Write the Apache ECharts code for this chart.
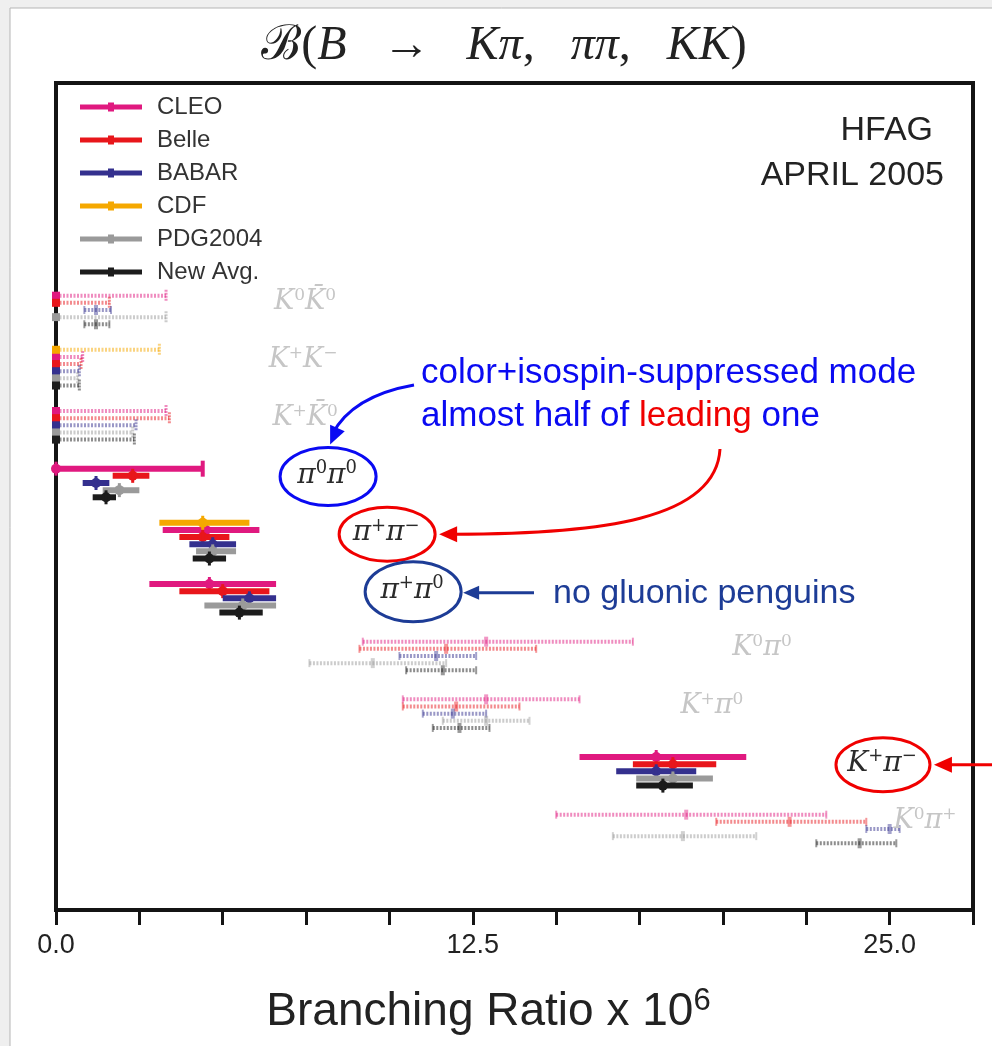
<!DOCTYPE html>
<html><head><meta charset="utf-8">
<script src="https://cdn.jsdelivr.net/npm/echarts@6/dist/echarts.min.js"></script>
<style>html,body{margin:0;padding:0;background:#efefef;} #c{width:992px;height:1046px;}</style>
</head><body><div id="c"></div>
<script>
// ---------------- data ----------------
const modes = ['K0K0bar','K+K-','K+K0bar','pi0pi0','pi+pi-','pi+pi0','K0pi0','K+pi0','K+pi-','K0pi+'];
const modeLabels = [
  '{i|K}{s|0}{i|K̄}{s|0}', '{i|K}{s|+}{i|K}{s|−}', '{i|K}{s|+}{i|K̄}{s|0}',
  '{i|π}{s|0}{i|π}{s|0}', '{i|π}{s|+}{i|π}{s|−}', '{i|π}{s|+}{i|π}{s|0}',
  '{i|K}{s|0}{i|π}{s|0}', '{i|K}{s|+}{i|π}{s|0}', '{i|K}{s|+}{i|π}{s|−}', '{i|K}{s|0}{i|π}{s|+}'
];
const experiments = ['CLEO','Belle','BABAR','CDF','PDG2004','New Avg.'];
// per mode: [central, low, high]; central null = upper limit (bar drawn from 0 to high)
const CLEO  = [[null,0,3.3],[null,0,0.8],[null,0,3.3],[null,0,4.4],[4.5,3.2,6.1],[4.6,2.8,6.6],[12.9,9.2,17.3],[12.9,10.4,15.7],[18.0,15.7,20.7],[18.9,15.0,23.1]];
const BELLE = [[null,0,1.6],[null,0,0.75],[null,0,3.4],[2.3,1.7,2.8],[4.4,3.7,5.2],[5.0,3.7,6.4],[11.7,9.1,14.4],[12.0,10.4,13.9],[18.5,17.3,19.8],[22.0,19.8,24.3]];
const BABAR = [[1.2,0.85,1.65],[null,0,0.7],[null,0,2.4],[1.2,0.8,1.6],[4.7,4.0,5.4],[5.8,5.0,6.6],[11.4,10.3,12.6],[11.9,11.0,12.9],[18.0,16.8,19.2],[25.0,24.3,25.3]];
const CDF   = [null,[null,0,3.1],null,null,[4.4,3.1,5.8],null,null,null,null,null];
const PDG   = [[null,0,3.3],[null,0,0.65],[null,0,2.3],[1.9,1.4,2.5],[4.7,4.2,5.4],[5.6,4.45,6.6],[9.5,7.6,11.7],[12.9,11.6,14.2],[18.5,17.4,19.7],[18.8,16.7,21.0]];
const AVG   = [[1.2,0.85,1.6],[null,0,0.7],[null,0,2.35],[1.5,1.1,1.8],[4.6,4.1,5.1],[5.5,4.9,6.2],[11.6,10.5,12.6],[12.1,11.3,13.0],[18.2,17.4,19.1],[24.1,22.8,25.2]];
const xTickLabels = [0, 12.5, 25];

// ---------------- layout / style ----------------
const byExp = {'CLEO':CLEO,'Belle':BELLE,'BABAR':BABAR,'CDF':CDF,'PDG2004':PDG,'New Avg.':AVG};
const colors = {'CLEO':'#e0197f','Belle':'#e8161b','BABAR':'#34308e','CDF':'#f5a800','PDG2004':'#9a9a9a','New Avg.':'#1c1c1c'};
const rowOrder = ['CDF','CLEO','Belle','BABAR','PDG2004','New Avg.'];
const emphasised = ['pi0pi0','pi+pi-','pi+pi0','K+pi-'];
const labelX = [7.47,7.41,7.47,8.13,9.9,10.68,21.17,19.67,24.77,26.06];
const Y_MIN = -3.936, Y_MAX = 10.405, ROW = 0.124, LABEL_DY = -0.13;

const fade = (hex, a) => { const n = parseInt(hex.slice(1),16); return `rgba(${n>>16},${(n>>8)&255},${n&255},${a})`; };

// row position of each (mode, experiment)
function rowY(m, exp) {
  const present = rowOrder.filter(e => byExp[e][m]);
  const j = present.indexOf(exp);
  return m + (j - (present.length - 1) / 2) * ROW;
}

function renderBar(params, api) {
  const lo = api.value(0), hi = api.value(1), c = api.value(2), y = api.value(3);
  const faint = api.value(4), ul = api.value(5);
  const color = api.visual('color');
  const a = api.coord([lo, y]), b = api.coord([hi, y]), m = api.coord([c, y]);
  const kids = [];
  if (faint) {
    kids.push({type:'line', shape:{x1:a[0],y1:a[1],x2:b[0],y2:b[1]},
      style:{stroke:fade(color,0.5), lineWidth:4, lineDash:[2,1.5]}});
    if (ul) {
      kids.push({type:'line', shape:{x1:b[0],y1:b[1]-6,x2:b[0],y2:b[1]+6}, style:{stroke:fade(color,0.5), lineWidth:3, lineDash:[2,1]}});
      kids.push({type:'rect', shape:{x:m[0]-4,y:m[1]-4,width:8,height:8}, style:{fill:color}});
    } else {
      kids.push({type:'rect', shape:{x:m[0]-2,y:m[1]-5,width:4,height:10}, style:{fill:fade(color,0.45)}});
      kids.push({type:'line', shape:{x1:a[0],y1:a[1]-4,x2:a[0],y2:a[1]+4}, style:{stroke:fade(color,0.45), lineWidth:2}});
      kids.push({type:'line', shape:{x1:b[0],y1:b[1]-4,x2:b[0],y2:b[1]+4}, style:{stroke:fade(color,0.45), lineWidth:2}});
    }
  } else {
    kids.push({type:'line', shape:{x1:a[0],y1:a[1],x2:b[0],y2:b[1]}, style:{stroke:color, lineWidth:6}});
    kids.push({type:'circle', shape:{cx:m[0],cy:m[1],r:5}, style:{fill:color}});
    kids.push({type:'line', shape:{x1:m[0],y1:m[1]-7,x2:m[0],y2:m[1]+7}, style:{stroke:color, lineWidth:3}});
    if (ul) kids.push({type:'line', shape:{x1:b[0],y1:b[1]-8,x2:b[0],y2:b[1]+8}, style:{stroke:color, lineWidth:4}});
  }
  return {type:'group', children:kids};
}

const series = experiments.map(exp => ({
  name: exp, type:'custom', renderItem: renderBar, clip:false,
  itemStyle:{color:colors[exp]},
  encode:{x:[0,1,2], y:3},
  data: byExp[exp].map((v, m) => v ? [v[1], v[2], v[0] === null ? 0 : v[0], rowY(m, exp),
        emphasised.includes(modes[m]) ? 0 : 1, v[0] === null ? 1 : 0] : null).filter(d => d)
}));

const richFor = (hi) => ({
  i:{fontFamily:'DejaVu Serif', fontStyle:'italic', fontSize: hi ? 28 : 27, fill: hi ? '#2b2b2b' : '#c6c6c6', lineHeight: hi ? 32 : 30},
  s:{fontFamily:'DejaVu Serif', fontSize: hi ? 18 : 17, fill: hi ? '#2b2b2b' : '#c6c6c6', verticalAlign:'top', lineHeight: hi ? 14 : 13}
});
series.push({
  name:'labels', type:'custom', silent:true, clip:false,
  encode:{x:0, y:1},
  data: modes.map((md, m) => [labelX[m], m + LABEL_DY, m]),
  renderItem(params, api) {
    const m = api.value(2), p = api.coord([api.value(0), api.value(1)]);
    const hi = emphasised.includes(modes[m]);
    return {type:'text', x:p[0], y:p[1], style:{text:modeLabels[m], rich:richFor(hi), align:'center', verticalAlign:'middle'}};
  }
});

const chart = echarts.init(document.getElementById('c'), null, {renderer:'canvas'});
chart.setOption({
  backgroundColor:'#efefef',
  animation:false,
  grid:{left:56, right:19, top:83, bottom:136, show:true, borderColor:'#141414', borderWidth:4, backgroundColor:'#fff'},
  xAxis:{type:'value', min:0, max:27.5, interval:2.5,
    axisLine:{show:true, onZero:false, lineStyle:{color:'#141414', width:4}},
    axisTick:{show:true, length:15, lineStyle:{color:'#141414', width:3}},
    splitLine:{show:false},
    axisLabel:{margin:22, fontSize:27, fontFamily:'Liberation Sans', color:'#222',
      formatter: v => xTickLabels.includes(v) ? v.toFixed(1) : ''},
    name:'{t|Branching Ratio x 10}{u|6}', nameLocation:'middle', nameGap:76,
    nameTextStyle:{padding:[0,52,0,0], rich:{
      t:{fontSize:46, fontFamily:'Liberation Sans', color:'#222', lineHeight:52},
      u:{fontSize:31, fontFamily:'Liberation Sans', color:'#222', verticalAlign:'top', lineHeight:22}}}
  },
  yAxis:{type:'value', inverse:true, min:Y_MIN, max:Y_MAX, show:false},
  legend:{left:80, top:95, padding:0, orient:'vertical', selectedMode:false, data:experiments,
    icon:'path://M0,2H28V0H34V2H62V7H34V9H28V7H0Z', itemWidth:62, itemHeight:9, itemGap:9,
    textStyle:{fontSize:24, fontFamily:'Liberation Sans', color:'#333', lineHeight:24, padding:[0,0,0,10]}},
  series
});

// ---------------- annotations ----------------
const px = m => chart.convertToPixel({gridIndex:0}, [labelX[m], m + LABEL_DY]);
function head(tip, from, len, hw) {
  const dx = tip[0]-from[0], dy = tip[1]-from[1], L = Math.hypot(dx,dy), ux = dx/L, uy = dy/L;
  const bx = tip[0]-ux*len, by = tip[1]-uy*len;
  return [[tip[0],tip[1]],[bx-uy*hw, by+ux*hw],[bx+uy*hw, by-ux*hw]];
}
const BLUE = '#0a0af2', RED = '#f00000', NAVY = '#1d3c96';
const g = [];
g.push({type:'rect', x:10, y:8, shape:{width:1200, height:1200}, style:{fill:'#fff', stroke:'#b5b5b5', lineWidth:1}, z:-10, silent:true});
// title
g.push({type:'text', x:504, y:46, style:{text:'{r|ℬ(}{i|B}{r|   →   }{i|Kπ}{r|,   }{i|ππ}{r|,   }{i|KK}{r|)}',
  align:'center', verticalAlign:'middle', rich:{
    r:{fontFamily:'Liberation Serif', fontSize:48, fill:'#222'},
    i:{fontFamily:'Liberation Serif', fontStyle:'italic', fontSize:48, fill:'#222'}}}});
// HFAG
g.push({type:'text', x:933, y:131, style:{text:'HFAG', align:'right', verticalAlign:'middle', fontFamily:'Liberation Sans', fontSize:34, fill:'#222'}});
g.push({type:'text', x:944, y:176, style:{text:'APRIL 2005', align:'right', verticalAlign:'middle', fontFamily:'Liberation Sans', fontSize:34, fill:'#222'}});

const e00 = px(3), epm = px(4), ep0 = px(5), ekp = px(8);
const ell = (p, col, rx, ry) => ({type:'ellipse', shape:{cx:p[0]+1, cy:p[1]+1, rx, ry}, style:{fill:'none', stroke:col, lineWidth:3}});
g.push(ell(e00, BLUE, 48, 29), ell(epm, RED, 48, 27), ell(ep0, NAVY, 48, 30), ell(ekp, RED, 47, 27));

// blue curved arrow to pi0pi0
{
  const tip = [e00[0]+3, e00[1]+1-29-3];
  const s = [414, 385], c = [352, 396];
  g.push({type:'bezierCurve', shape:{x1:s[0],y1:s[1],x2:tip[0]+2,y2:tip[1]-10,cpx1:c[0],cpy1:c[1]}, style:{stroke:BLUE, lineWidth:3, fill:'none'}});
  g.push({type:'polygon', shape:{points:head(tip,[tip[0]+8,tip[1]-18],18,8)}, style:{fill:BLUE}});
}
// red curved arrow to pi+pi-
{
  const tip = [epm[0]+1+48+4, epm[1]+1];
  g.push({type:'bezierCurve', shape:{x1:720,y1:449,x2:tip[0]+14,y2:tip[1],cpx1:716,cpy1:520,cpx2:600,cpy2:tip[1]}, style:{stroke:RED, lineWidth:3, fill:'none'}});
  g.push({type:'polygon', shape:{points:head(tip,[tip[0]+20,tip[1]],18,8)}, style:{fill:RED}});
}
// navy straight arrow to pi+pi0
{
  const tip = [ep0[0]+1+48+2, ep0[1]+2];
  g.push({type:'line', shape:{x1:534,y1:tip[1],x2:tip[0]+12,y2:tip[1]}, style:{stroke:NAVY, lineWidth:3}});
  g.push({type:'polygon', shape:{points:head(tip,[tip[0]+20,tip[1]],16,7)}, style:{fill:NAVY}});
}
// red arrow to K+pi-
{
  const tip = [ekp[0]+1+47+4, ekp[1]+1];
  g.push({type:'line', shape:{x1:995,y1:tip[1],x2:tip[0]+14,y2:tip[1]}, style:{stroke:RED, lineWidth:3}});
  g.push({type:'polygon', shape:{points:head(tip,[tip[0]+20,tip[1]],18,8)}, style:{fill:RED}});
}
// texts
g.push({type:'text', x:421, y:373, style:{text:'color+isospin-suppressed mode', verticalAlign:'middle', fontFamily:'Liberation Sans', fontSize:35, fill:BLUE}});
g.push({type:'text', x:421, y:416, style:{text:'{b|almost half of }{r|leading}{b| one}', verticalAlign:'middle',
  rich:{b:{fontFamily:'Liberation Sans', fontSize:35, fill:BLUE}, r:{fontFamily:'Liberation Sans', fontSize:35, fill:RED}}}});
g.push({type:'text', x:553, y:594, style:{text:'no gluonic penguins', verticalAlign:'middle', fontFamily:'Liberation Sans', fontSize:34, fill:NAVY}});

chart.setOption({graphic:{elements:g}});
</script>
</body></html>
